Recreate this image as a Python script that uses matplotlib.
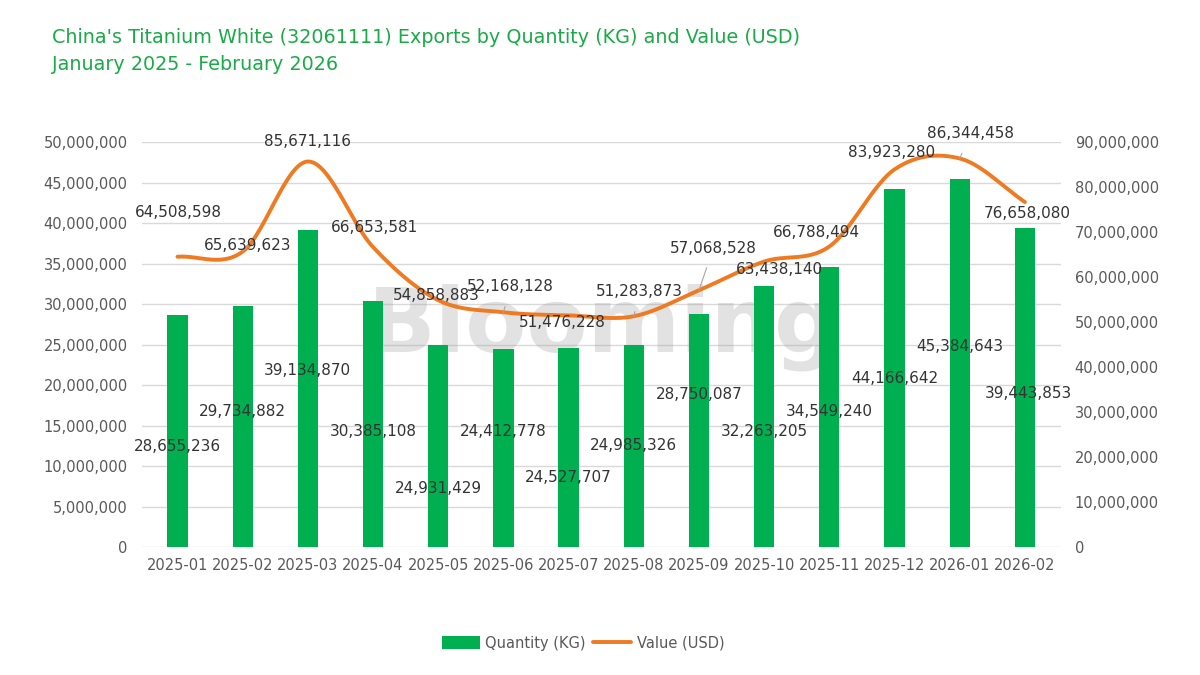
import matplotlib
matplotlib.use("Agg")
import matplotlib.pyplot as plt
import numpy as np
from matplotlib.ticker import FuncFormatter

months = ["2025-01", "2025-02", "2025-03", "2025-04", "2025-05", "2025-06", "2025-07",
          "2025-08", "2025-09", "2025-10", "2025-11", "2025-12", "2026-01", "2026-02"]
quantity_kg = [28655236, 29734882, 39134870, 30385108, 24931429, 24412778, 24527707,
               24985326, 28750087, 32263205, 34549240, 44166642, 45384643, 39443853]
value_usd = [64508598, 65639623, 85671116, 66653581, 54858883, 52168128, 51476228,
             51283873, 57068528, 63438140, 66788494, 83923280, 86344458, 76658080]

# label placement (x in category units, y in axis units)
qty_label_pos = [(0, 12.47e6), (1, 16.79e6), (2, 21.85e6), (3, 14.2e6), (4, 7.28e6),
                 (5, 14.2e6), (6, 8.64e6), (7, 12.59e6), (8, 18.89e6), (9, 14.2e6),
                 (10, 16.67e6), (11, 20.86e6), (12, 24.81e6), (13.06, 19.01e6)]
val_label_pos = [(0.02, 74.4e6), (1.08, 67.1e6), (2, 90.2e6), (3.02, 71.1e6), (3.97, 55.8e6),
                 (5.11, 57.8e6), (5.9, 50.0e6), (7.09, 56.7e6), (8.22, 66.4e6), (9.23, 61.6e6),
                 (9.8, 69.8e6), (10.96, 87.6e6), (12.16, 91.8e6), (13.03, 74.2e6)]
leaders = [1, 5, 7, 8, 12]

GREEN = "#00b050"
ORANGE = "#f07a22"
TXT = "#333333"
TICK = "#595959"

plt.rcParams["font.family"] = ["DejaVu Sans"]


def smooth(x, y, n=30):
    # Catmull-Rom curve through the points, like a smoothed Excel line
    x = np.asarray(x, float)
    y = np.asarray(y, float)
    px = np.concatenate([[2 * x[0] - x[1]], x, [2 * x[-1] - x[-2]]])
    py = np.concatenate([[2 * y[0] - y[1]], y, [2 * y[-1] - y[-2]]])
    xs, ys = [], []
    t = np.linspace(0, 1, n)
    for i in range(1, len(px) - 2):
        for p, out in ((px, xs), (py, ys)):
            p0, p1, p2, p3 = p[i - 1], p[i], p[i + 1], p[i + 2]
            out.append(0.5 * (2 * p1 + (-p0 + p2) * t + (2 * p0 - 5 * p1 + 4 * p2 - p3) * t ** 2
                              + (-p0 + 3 * p1 - 3 * p2 + p3) * t ** 3))
    return np.concatenate(xs), np.concatenate(ys)


fig = plt.figure(figsize=(12, 6.75), dpi=100)
ax = fig.add_axes([0.118, 0.1896, 0.766, 0.6])
ax2 = ax.twinx()

x = np.arange(len(months))
bars = ax.bar(x, quantity_kg, width=0.31, color=GREEN, label="Quantity (KG)", zorder=2)
sx, sy = smooth(x, value_usd)
line, = ax2.plot(sx, sy, color=ORANGE, lw=2.8, label="Value (USD)", solid_capstyle="round")

ax.set_xlim(-0.55, len(months) - 0.45)
ax.set_ylim(0, 50e6)
ax2.set_ylim(0, 90e6)
ax.set_yticks(np.arange(0, 50e6 + 1, 5e6))
ax2.set_yticks(np.arange(0, 90e6 + 1, 10e6))
fmt = FuncFormatter(lambda v, p: f"{v:,.0f}")
ax.yaxis.set_major_formatter(fmt)
ax2.yaxis.set_major_formatter(fmt)
ax.set_xticks(x)
ax.set_xticklabels(months)

ax.grid(axis="y", color="#d9d9d9", lw=1, zorder=0)
ax.set_axisbelow(True)
for a in (ax, ax2):
    for s in a.spines.values():
        s.set_visible(False)
    a.tick_params(length=0, labelsize=10.5, colors=TICK)
ax.tick_params(axis="y", pad=10)
ax2.tick_params(axis="y", pad=10)
ax.tick_params(axis="x", pad=8)

# watermark, behind the bars
ax.text(0.503, 0.515, "Blooming", transform=fig.transFigure, ha="center", va="center",
        fontsize=64, fontweight="bold", color="#a0a0a0", alpha=0.3, zorder=1)

for i, (lx, ly) in enumerate(qty_label_pos):
    ax.text(lx, ly, f"{quantity_kg[i]:,}", ha="center", va="center", fontsize=11, color=TXT, zorder=5)

for i, (lx, ly) in enumerate(val_label_pos):
    if i in leaders:
        ax2.annotate(f"{value_usd[i]:,}", xy=(x[i], value_usd[i]), xytext=(lx, ly),
                     ha="center", va="center", fontsize=11, color=TXT,
                     arrowprops=dict(arrowstyle="-", color="#a6a6a6", lw=0.8, shrinkA=7, shrinkB=0))
    else:
        ax2.text(lx, ly, f"{value_usd[i]:,}", ha="center", va="center", fontsize=11, color=TXT)

fig.text(0.043, 0.945, "China's Titanium White (32061111) Exports by Quantity (KG) and Value (USD)",
         fontsize=13.8, color="#1aab48", ha="left", va="center")
fig.text(0.043, 0.905, "January 2025 - February 2026",
         fontsize=13.8, color="#1aab48", ha="left", va="center")

fig.legend(handles=[bars, line], loc="center", bbox_to_anchor=(0.486, 0.047), ncol=2,
           frameon=False, fontsize=10.5, handlelength=2.6, handleheight=1.0,
           columnspacing=0.5, handletextpad=0.4, labelcolor=TICK)

fig.savefig("out.png", dpi=100)
